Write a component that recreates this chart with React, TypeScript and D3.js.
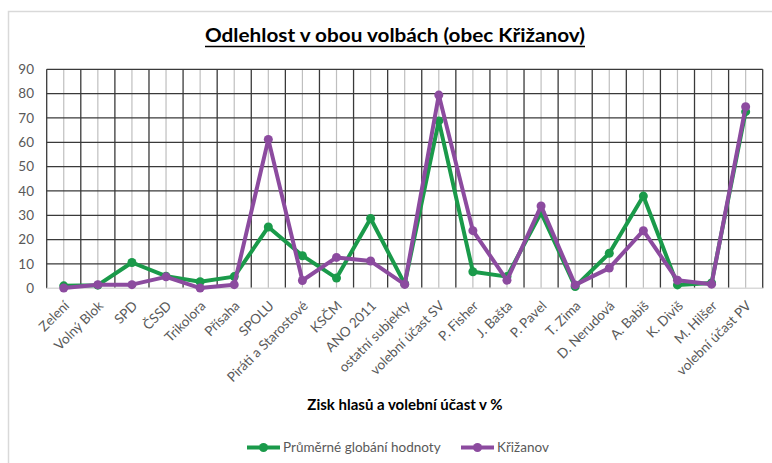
import React from 'react';
import * as d3 from 'd3';

const categories = [
  'Zelení', 'Volný Blok', 'SPD', 'ČSSD', 'Trikolora', 'Přísaha', 'SPOLU',
  'Piráti a Starostové', 'KSČM', 'ANO 2011', 'ostatní subjekty', 'volební účast SV',
  'P. Fisher', 'J. Bašta', 'P. Pavel', 'T. Zima', 'D. Nerudová', 'A. Babiš',
  'K. Diviš', 'M. Hilšer', 'volební účast PV',
];

const globalValues = [
  1.0, 1.3, 10.6, 5.0, 2.7, 4.8, 25.2, 13.4, 4.2, 28.7, 1.8, 68.8,
  6.8, 4.8, 31.1, 0.7, 14.4, 37.9, 1.4, 2.2, 72.6,
];

const krizanovValues = [
  0.1, 1.5, 1.5, 4.7, 0.1, 1.5, 61.2, 3.2, 12.7, 11.2, 1.6, 79.4,
  23.7, 3.3, 33.8, 1.4, 8.3, 23.7, 3.3, 1.7, 74.6,
];

const yTicks = [0, 10, 20, 30, 40, 50, 60, 70, 80, 90];

const series = [
  { name: 'Průměrné globání hodnoty', values: globalValues, color: '#1a9a4a' },
  { name: 'Křižanov', values: krizanovValues, color: '#8c4b9f' },
];

const W = 772;
const H = 463;
const font = 'Lato, "Open Sans", sans-serif';

export default function App() {
  const x = d3.scaleBand<string>().domain(categories).range([46.7, 762.7]);
  const y = d3.scaleLinear().domain([0, 90]).range([288.3, 69.3]);
  const cx = (c: string) => (x(c) as number) + x.bandwidth() / 2;

  const line = d3
    .line<number>()
    .x((_, i) => cx(categories[i]))
    .y((d) => y(d));

  const boundaries = categories.map((c) => x(c) as number).concat([x.range()[1]]);

  return (
    <svg
      width={W}
      height={H}
      style={{ position: 'absolute', left: 0, top: 0, background: '#fff' }}
      fontFamily={font}
    >
      {/* chart frame (only left and top edges are in view) */}
      <path d={`M8.5,${H} V11.5 H${W}`} fill="none" stroke="#d9d9d9" strokeWidth={1.5} />

      <text
        x={395}
        y={42}
        textAnchor="middle"
        fontSize={19}
        fontWeight="bold"
        fill="#000"
        textLength={380}
        lengthAdjust="spacingAndGlyphs"
      >
        Odlehlost v obou volbách (obec Křižanov)
      </text>
      <line x1={205} x2={585} y1={46.5} y2={46.5} stroke="#000" strokeWidth={1.4} />

      {/* minor vertical grid at category centers */}
      {categories.map((c) => (
        <line key={'mv' + c} x1={cx(c)} x2={cx(c)} y1={y(90)} y2={y(0)} stroke="#bfbfbf" strokeWidth={1.2} />
      ))}
      {/* major vertical grid at category boundaries */}
      {boundaries.map((b, i) => (
        <line key={'v' + i} x1={b} x2={b} y1={y(90)} y2={y(0)} stroke="#3a3a3a" strokeWidth={1.3} />
      ))}
      {/* horizontal grid */}
      {yTicks.slice(1).map((t) => (
        <line key={'h' + t} x1={x.range()[0]} x2={x.range()[1]} y1={y(t)} y2={y(t)} stroke="#3a3a3a" strokeWidth={1.3} />
      ))}
      <line x1={x.range()[0]} x2={x.range()[1]} y1={y(0)} y2={y(0)} stroke="#d9d9d9" strokeWidth={1.5} />

      {yTicks.map((t) => (
        <text key={'yt' + t} x={34} y={y(t)} dy="0.35em" textAnchor="end" fontSize={13.5} fill="#595959">
          {t}
        </text>
      ))}

      {categories.map((c) => (
        <text
          key={'xl' + c}
          transform={`translate(${cx(c) + 3},${y(0) + 15}) rotate(-45)`}
          textAnchor="end"
          dy="0.35em"
          fontSize={13.5}
          fill="#595959"
        >
          {c}
        </text>
      ))}

      {series.map((s) => (
        <g key={s.name}>
          <path d={line(s.values) || ''} fill="none" stroke={s.color} strokeWidth={4} strokeLinejoin="round" />
          {s.values.map((v, i) => (
            <circle key={i} cx={cx(categories[i])} cy={y(v)} r={4.5} fill={s.color} />
          ))}
        </g>
      ))}

      <text x={405} y={410} textAnchor="middle" fontSize={15} fontWeight="bold" fill="#000">
        Zisk hlasů a volební účast v %
      </text>

      {series.map((s, i) => {
        const lx = i === 0 ? 247 : 461;
        return (
          <g key={'lg' + s.name}>
            <line x1={lx} x2={lx + 33} y1={447.5} y2={447.5} stroke={s.color} strokeWidth={4} />
            <circle cx={lx + 16.5} cy={447.5} r={4.5} fill={s.color} />
            <text x={lx + 36} y={447.5} dy="0.35em" fontSize={13.5} fill="#595959">
              {s.name}
            </text>
          </g>
        );
      })}
    </svg>
  );
}
